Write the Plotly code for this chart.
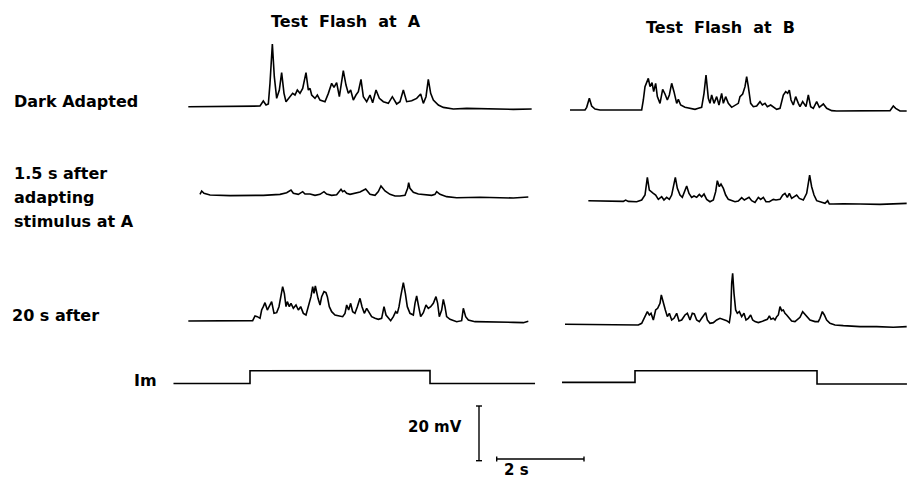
import plotly.graph_objects as go

# ---------------- data (time in s relative to light-step onset, potential in mV re. baseline) -------------
DARK_A_T = [-1.413, 0.038, 0.229, 0.305, 0.367, 0.42, 0.458, 0.512, 0.557, 0.611, 0.672, 0.725, 0.779, 0.825,
            0.916, 0.977, 1.031, 1.084, 1.145, 1.207, 1.283, 1.336, 1.375, 1.413, 1.489, 1.543, 1.604, 1.718,
            1.795, 1.871, 1.924, 1.985, 2.047, 2.1, 2.138, 2.199, 2.253, 2.306, 2.367, 2.428, 2.482, 2.543,
            2.596, 2.673, 2.749, 2.81, 2.887, 2.963, 3.055, 3.169, 3.261, 3.36, 3.436, 3.513, 3.589, 3.704,
            3.818, 3.91, 3.971, 4.032, 4.085, 4.139, 4.2, 4.315, 4.429, 4.658, 4.964, 6.033, 6.453]
DARK_A_MV = [0, 0, 0.24, 2.07, 0.61, 0.98, 8.53, 22.9, 10.97, 3.05, 6.09, 12.43, 4.88, 1.83,
             3.66, 4.88, 4.27, 6.09, 4.88, 6.7, 12.43, 6.09, 6.7, 4.27, 3.05, 4.27, 2.44, 1.83,
             4.88, 8.53, 7.07, 8.78, 3.66, 9.75, 13.16, 7.92, 4.88, 6.09, 2.44, 4.27, 5.48, 9.99,
             3.66, 1.83, 4.27, 1.46, 6.09, 3.05, 1.83, 1.22, 3.66, 0.98, 1.83, 6.09, 1.83, 2.19,
             3.05, 4.63, 1.22, 3.66, 9.99, 4.88, 2.44, 0.61, -0.24, -0.85, -0.61, -0.98, -0.85]

DARK_B_T = [-1.489, -1.145, -1.107, -1.046, -0.993, -0.916, -0.802, 0.153, 0.191, 0.229, 0.305, 0.344, 0.39,
            0.428, 0.473, 0.512, 0.573, 0.634, 0.687, 0.741, 0.787, 0.84, 0.893, 0.955, 0.993, 1.046, 1.145,
            1.26, 1.375, 1.451, 1.527, 1.581, 1.627, 1.68, 1.718, 1.756, 1.81, 1.871, 1.924, 1.985, 2.024,
            2.077, 2.138, 2.215, 2.291, 2.367, 2.405, 2.467, 2.52, 2.558, 2.596, 2.65, 2.711, 2.787, 2.864,
            2.917, 2.978, 3.032, 3.108, 3.169, 3.246, 3.322, 3.398, 3.452, 3.498, 3.536, 3.574, 3.627, 3.681,
            3.742, 3.78, 3.841, 3.917, 3.971, 4.024, 4.085, 4.162, 4.223, 4.315, 4.391, 4.506, 4.62, 5.155,
            5.842, 5.918, 5.972, 6.071, 6.224]
DARK_B_MV = [0, 0, 0.98, 4.27, 1.46, 0.37, 0, 0, 3.66, 8.53, 11.58, 8.53, 9.99,
             6.7, 9.75, 4.88, 2.44, 7.56, 5.85, 3.66, 5.48, 9.75, 6.7, 2.44, 3.9, 1.83, 0.98,
             0.61, 0.24, 0.61, 0.98, 6.09, 12.8, 4.27, 2.44, 5.48, 2.44, 4.88, 1.83, 6.09, 2.44,
             4.88, 2.44, 0.98, 1.83, 2.44, 4.88, 5.85, 8.53, 12.19, 8.53, 2.44, 1.22, 1.46, 3.05,
             1.83, 2.44, 1.22, 1.83, 0.98, 0.24, 0.61, 5.48, 6.7, 6.09, 7.31, 3.66, 1.83, 4.88,
             2.44, 1.22, 3.05, 1.22, 5.48, 1.22, 0.61, 3.05, 0.98, 2.19, 0.61, -0.24, -0.37, -0.37,
             -0.24, 1.46, 0.61, -0.37, -0.37]

ADAPT_A_T = [-1.145, -1.107, -1.054, -0.916, -0.458, 0.305, 0.687, 0.84, 0.939, 0.993, 1.107, 1.207, 1.26,
             1.375, 1.489, 1.604, 1.695, 1.756, 1.871, 1.985, 2.085, 2.123, 2.161, 2.215, 2.291, 2.405,
             2.52, 2.65, 2.749, 2.864, 2.94, 3.001, 3.093, 3.207, 3.322, 3.436, 3.551, 3.612, 3.635,
             3.665, 3.742, 3.856, 4.047, 4.162, 4.238, 4.276, 4.353, 4.505, 4.735, 5.269, 6.033, 6.376]
ADAPT_A_MV = [0.24, 1.46, 0.61, 0, -0.24, -0.12, 0.24, 0.85, 1.83, 0.61, 0.24, 1.22, 0.37,
              0.37, -0.12, 0.24, 1.22, 0.37, -0.12, 0.12, 2.07, 1.22, 1.58, 0.61, 0.24, 0.61,
              1.1, 2.19, 0.24, -0.12, 1.22, 3.29, 1.46, 0.24, -0.37, -0.37, -0.12, 2.44, 4.51,
              2.44, 0.98, 0.37, 0, -0.12, 0.24, 1.22, 0.24, -0.61, -0.98, -0.85, -1.1, -0.73]

ADAPT_B_T = [-1.069, -0.267, -0.214, -0.153, 0.038, 0.153, 0.229, 0.283, 0.328, 0.367, 0.42, 0.473, 0.535,
             0.611, 0.664, 0.725, 0.787, 0.84, 0.878, 0.924, 0.97, 1.031, 1.084, 1.13, 1.184, 1.237, 1.298,
             1.352, 1.413, 1.474, 1.527, 1.581, 1.642, 1.718, 1.795, 1.848, 1.886, 1.932, 1.97, 2.024,
             2.077, 2.138, 2.215, 2.291, 2.367, 2.444, 2.505, 2.558, 2.612, 2.673, 2.749, 2.826, 2.879,
             2.94, 3.001, 3.078, 3.169, 3.23, 3.322, 3.383, 3.436, 3.49, 3.536, 3.589, 3.643, 3.704,
             3.765, 3.856, 3.933, 3.971, 4.001, 4.047, 4.101, 4.162, 4.276, 4.353, 4.414, 4.452, 4.544,
             4.773, 5.155, 5.613, 6.224]
ADAPT_B_MV = [0, -0.24, 0.24, -0.24, -0.37, 0.24, 2.07, 8.53, 3.9, 3.29, 2.68, 2.07, 0.49,
              1.46, 0.24, 1.22, 0.49, 2.07, 5.12, 8.53, 4.51, 2.07, 1.22, 3.29, 5.36, 2.68, 1.22,
              1.71, 1.22, 2.32, 1.46, 2.44, 0.49, -0.37, 0.24, 3.29, 7.31, 5.12, 6.09, 4.51,
              2.07, 0.49, 0, -0.37, -0.12, 1.1, 0.24, 0.85, 1.22, 0, -0.61, 1.22, 0.49,
              1.22, -0.37, -0.37, 0.49, 0.24, 0.49, 2.07, 2.68, 1.22, 2.68, 0.85, 1.46, 2.07,
              0.85, 0.24, 2.68, 6.34, 9.38, 5.12, 2.07, 0, -0.73, -0.98, 0, -1.22, -1.22,
              -1.1, -1.22, -1.34, -0.98]

LATE_A_T = [-1.413, -0.076, 0.061, 0.115, 0.168, 0.229, 0.267, 0.305, 0.344, 0.397, 0.443, 0.496, 0.55,
            0.611, 0.664, 0.71, 0.748, 0.787, 0.825, 0.855, 0.901, 0.939, 0.993, 1.054, 1.107, 1.161,
            1.222, 1.283, 1.336, 1.397, 1.436, 1.466, 1.497, 1.527, 1.558, 1.604, 1.642, 1.695, 1.741,
            1.772, 1.817, 1.871, 1.947, 2.047, 2.123, 2.176, 2.215, 2.26, 2.306, 2.352, 2.405, 2.459,
            2.52, 2.566, 2.619, 2.673, 2.734, 2.787, 2.864, 2.94, 3.016, 3.07, 3.116, 3.169, 3.223,
            3.284, 3.337, 3.375, 3.414, 3.452, 3.49, 3.513, 3.559, 3.604, 3.665, 3.742, 3.78, 3.818,
            3.864, 3.91, 3.971, 4.032, 4.085, 4.139, 4.2, 4.261, 4.299, 4.337, 4.391, 4.429, 4.467,
            4.505, 4.582, 4.735, 4.849, 4.887, 4.941, 5.002, 5.155, 5.575, 6.033, 6.262, 6.376]
LATE_A_MV = [0, 0, 0.12, 1.83, 1.58, 0.98, 4.02, 5.24, 6.7, 4.02, 5.24, 7.07, 2.8,
             3.05, 5.24, 8.9, 12.55, 10.12, 5.24, 7.07, 5.24, 6.46, 4.63, 5.85, 4.02, 5.24,
             2.8, 2.19, 5.24, 8.9, 12.55, 10.12, 12.8, 10.12, 8.29, 5.85, 8.9, 10.73, 10.36,
             8.9, 5.24, 3.41, 2.19, 1.83, 1.58, 2.8, 5.85, 4.02, 6.46, 3.41, 2.8, 5.24,
             8.29, 5.24, 2.8, 4.63, 2.8, 1.58, 0.98, 0.61, 0.98, 5.24, 2.19, 0.98, 0.12,
             1.58, 3.41, 2.8, 5.24, 8.9, 12.55, 14.02, 10.12, 5.24, 2.8, 2.19, 6.46, 9.14,
             5.24, 1.58, 3.05, 5.85, 4.63, 5.24, 6.46, 8.9, 6.46, 1.58, 4.02, 7.92, 5.24,
             1.58, 0.61, -0.24, 0.12, 4.63, 1.58, 0.37, -0.24, -0.24, -0.49, -0.61, -0.12]

LATE_B_T = [-1.604, -0.573, 0.076, 0.153, 0.229, 0.283, 0.328, 0.367, 0.42, 0.473, 0.519, 0.573, 0.603,
            0.649, 0.695, 0.741, 0.787, 0.84, 0.893, 0.955, 1.008, 1.069, 1.145, 1.199, 1.26, 1.313,
            1.359, 1.413, 1.474, 1.527, 1.581, 1.619, 1.657, 1.718, 1.795, 1.871, 1.947, 2.024, 2.1,
            2.161, 2.192, 2.215, 2.237, 2.268, 2.306, 2.344, 2.39, 2.444, 2.497, 2.543, 2.596, 2.65,
            2.696, 2.749, 2.826, 2.902, 2.978, 3.032, 3.078, 3.116, 3.169, 3.207, 3.246, 3.284, 3.322,
            3.36, 3.398, 3.436, 3.475, 3.536, 3.589, 3.665, 3.719, 3.78, 3.841, 3.879, 3.933, 4.009,
            4.124, 4.2, 4.238, 4.292, 4.338, 4.391, 4.467, 4.582, 4.773, 5.155, 5.536, 5.918, 6.224]
LATE_B_MV = [0, 0, -0.24, 0.37, 2.8, 4.63, 3.41, 4.02, 1.58, 5.24, 5.85, 7.68, 10.73,
             7.68, 5.24, 2.8, 4.02, 1.58, 2.19, 4.02, 1.22, 1.58, 3.41, 4.02, 1.58, 4.02,
             3.78, 1.58, 0.98, 2.19, 3.41, 4.27, 1.58, 0.37, 0.61, 1.58, 2.19, 1.83, 1.34,
             0.61, 4.02, 14.99, 18.65, 11.33, 5.24, 4.02, 4.63, 2.8, 4.02, 1.58, 2.19, 3.41,
             1.58, 0.98, 0.61, 0.98, 1.58, 1.83, 3.05, 1.83, 2.19, 1.58, 2.8, 3.41, 6.46,
             5.0, 5.24, 4.02, 3.41, 2.19, 1.22, 0.98, 1.58, 2.56, 4.63, 4.02, 2.8, 1.58,
             0.98, 0.98, 2.19, 4.63, 3.41, 1.58, 0.37, -0.24, -0.49, -0.85, -0.85, -1.1, -0.85]

# stimulus monitor (Im), plotted at the same vertical gain
IM_A_T = [-1.753, 0.0, 0.0, 4.124, 4.124, 6.53]
IM_A_V = [0.0, 0.0, 4.68, 4.72, 0.0, 0.0]
IM_B_T = [-1.672, 0.0, 0.0, 4.17, 4.17, 6.23]
IM_B_V = [0.4, 0.4, 4.68, 4.68, -0.2, -0.2]

SCALE_MV = 20   # vertical calibration bar
SCALE_S = 2     # horizontal calibration bar

COLUMN_TITLES = ["Test Flash at A", "Test Flash at B"]
ROW_LABELS = ["Dark Adapted", "1.5 s after", "adapting", "stimulus at A", "20 s after", "Im"]

# ---------------- layout (pixel geometry of the page) ----------------
W, H = 907, 478
PX_PER_S = 43.65
PX_PER_MV = 2.735
COL_X0 = {"A": 250, "B": 635}            # px of light-step onset
ROW_BASE = {("dark", "A"): 106.7, ("dark", "B"): 110.0,
            ("adapt", "A"): 195.0, ("adapt", "B"): 200.7,
            ("late", "A"): 321.0, ("late", "B"): 324.3,
            ("im", "A"): 383.5, ("im", "B"): 383.5}


def gx(col, t):
    return [COL_X0[col] / PX_PER_S + v for v in t]


def gy(key, mv):
    return [-ROW_BASE[key] / PX_PER_MV + v for v in mv]


def px2x(px):
    return px / PX_PER_S


def py2y(py):
    return -py / PX_PER_MV


fig = go.Figure()
LINE = dict(color="black", width=1.6)

series = [
    ("dark", "A", DARK_A_T, DARK_A_MV), ("dark", "B", DARK_B_T, DARK_B_MV),
    ("adapt", "A", ADAPT_A_T, ADAPT_A_MV), ("adapt", "B", ADAPT_B_T, ADAPT_B_MV),
    ("late", "A", LATE_A_T, LATE_A_MV), ("late", "B", LATE_B_T, LATE_B_MV),
    ("im", "A", IM_A_T, IM_A_V), ("im", "B", IM_B_T, IM_B_V),
]
for row, col, t, v in series:
    fig.add_trace(go.Scatter(x=gx(col, t), y=gy((row, col), v), mode="lines",
                             line=LINE, hoverinfo="skip", showlegend=False))

# calibration bars
vb_x, vb_bottom = 479.0, 460.7
y0 = py2y(vb_bottom)
cap = 3.0 / PX_PER_S
fig.add_trace(go.Scatter(
    x=[px2x(vb_x), px2x(vb_x), None, px2x(vb_x) - cap, px2x(vb_x) + cap, None,
       px2x(vb_x) - cap, px2x(vb_x) + cap],
    y=[y0, y0 + SCALE_MV, None, y0 + SCALE_MV, y0 + SCALE_MV, None, y0, y0],
    mode="lines", line=dict(color="black", width=1.4), hoverinfo="skip", showlegend=False))
hb_left, hb_y = 496.7, 459.0
x0 = px2x(hb_left)
yb = py2y(hb_y)
tcap = 2.5 / PX_PER_MV
fig.add_trace(go.Scatter(
    x=[x0, x0 + SCALE_S, None, x0, x0, None, x0 + SCALE_S, x0 + SCALE_S],
    y=[yb, yb, None, yb - tcap, yb + tcap, None, yb - tcap, yb + tcap],
    mode="lines", line=dict(color="black", width=1.4), hoverinfo="skip", showlegend=False))

FONT = dict(family="DejaVu Sans", size=16, color="black")


def label(text, px, py, anchor="left", size=16, wide=False):
    if wide:
        text = text.replace(" ", "&nbsp; ")
    fig.add_annotation(x=px2x(px), y=py2y(py), text="<b>%s</b>" % text, showarrow=False,
                       xanchor=anchor, yanchor="middle", font=dict(FONT, size=size))


label(COLUMN_TITLES[0], 346, 21.5, "center", wide=True)
label(COLUMN_TITLES[1], 720, 27.5, "center", wide=True)
label(ROW_LABELS[0], 12, 101.5)
label(ROW_LABELS[1], 12, 173)
label(ROW_LABELS[2], 12, 197.5)
label(ROW_LABELS[3], 12, 221.5)
label(ROW_LABELS[4], 10, 315)
label(ROW_LABELS[5], 132, 380)
label("%d mV" % SCALE_MV, 464, 427, "right", 15)
label("%d s" % SCALE_S, 516, 470, "center", 15)

fig.update_layout(
    width=W, height=H, margin=dict(l=0, r=0, t=0, b=0),
    paper_bgcolor="white", plot_bgcolor="white",
    xaxis=dict(range=[0, W / PX_PER_S], visible=False, fixedrange=True),
    yaxis=dict(range=[-H / PX_PER_MV, 0], visible=False, fixedrange=True),
)

fig.write_html("out.html", config={"displayModeBar": False},
               post_script="document.body.style.margin='0';document.body.style.overflow='hidden';")
